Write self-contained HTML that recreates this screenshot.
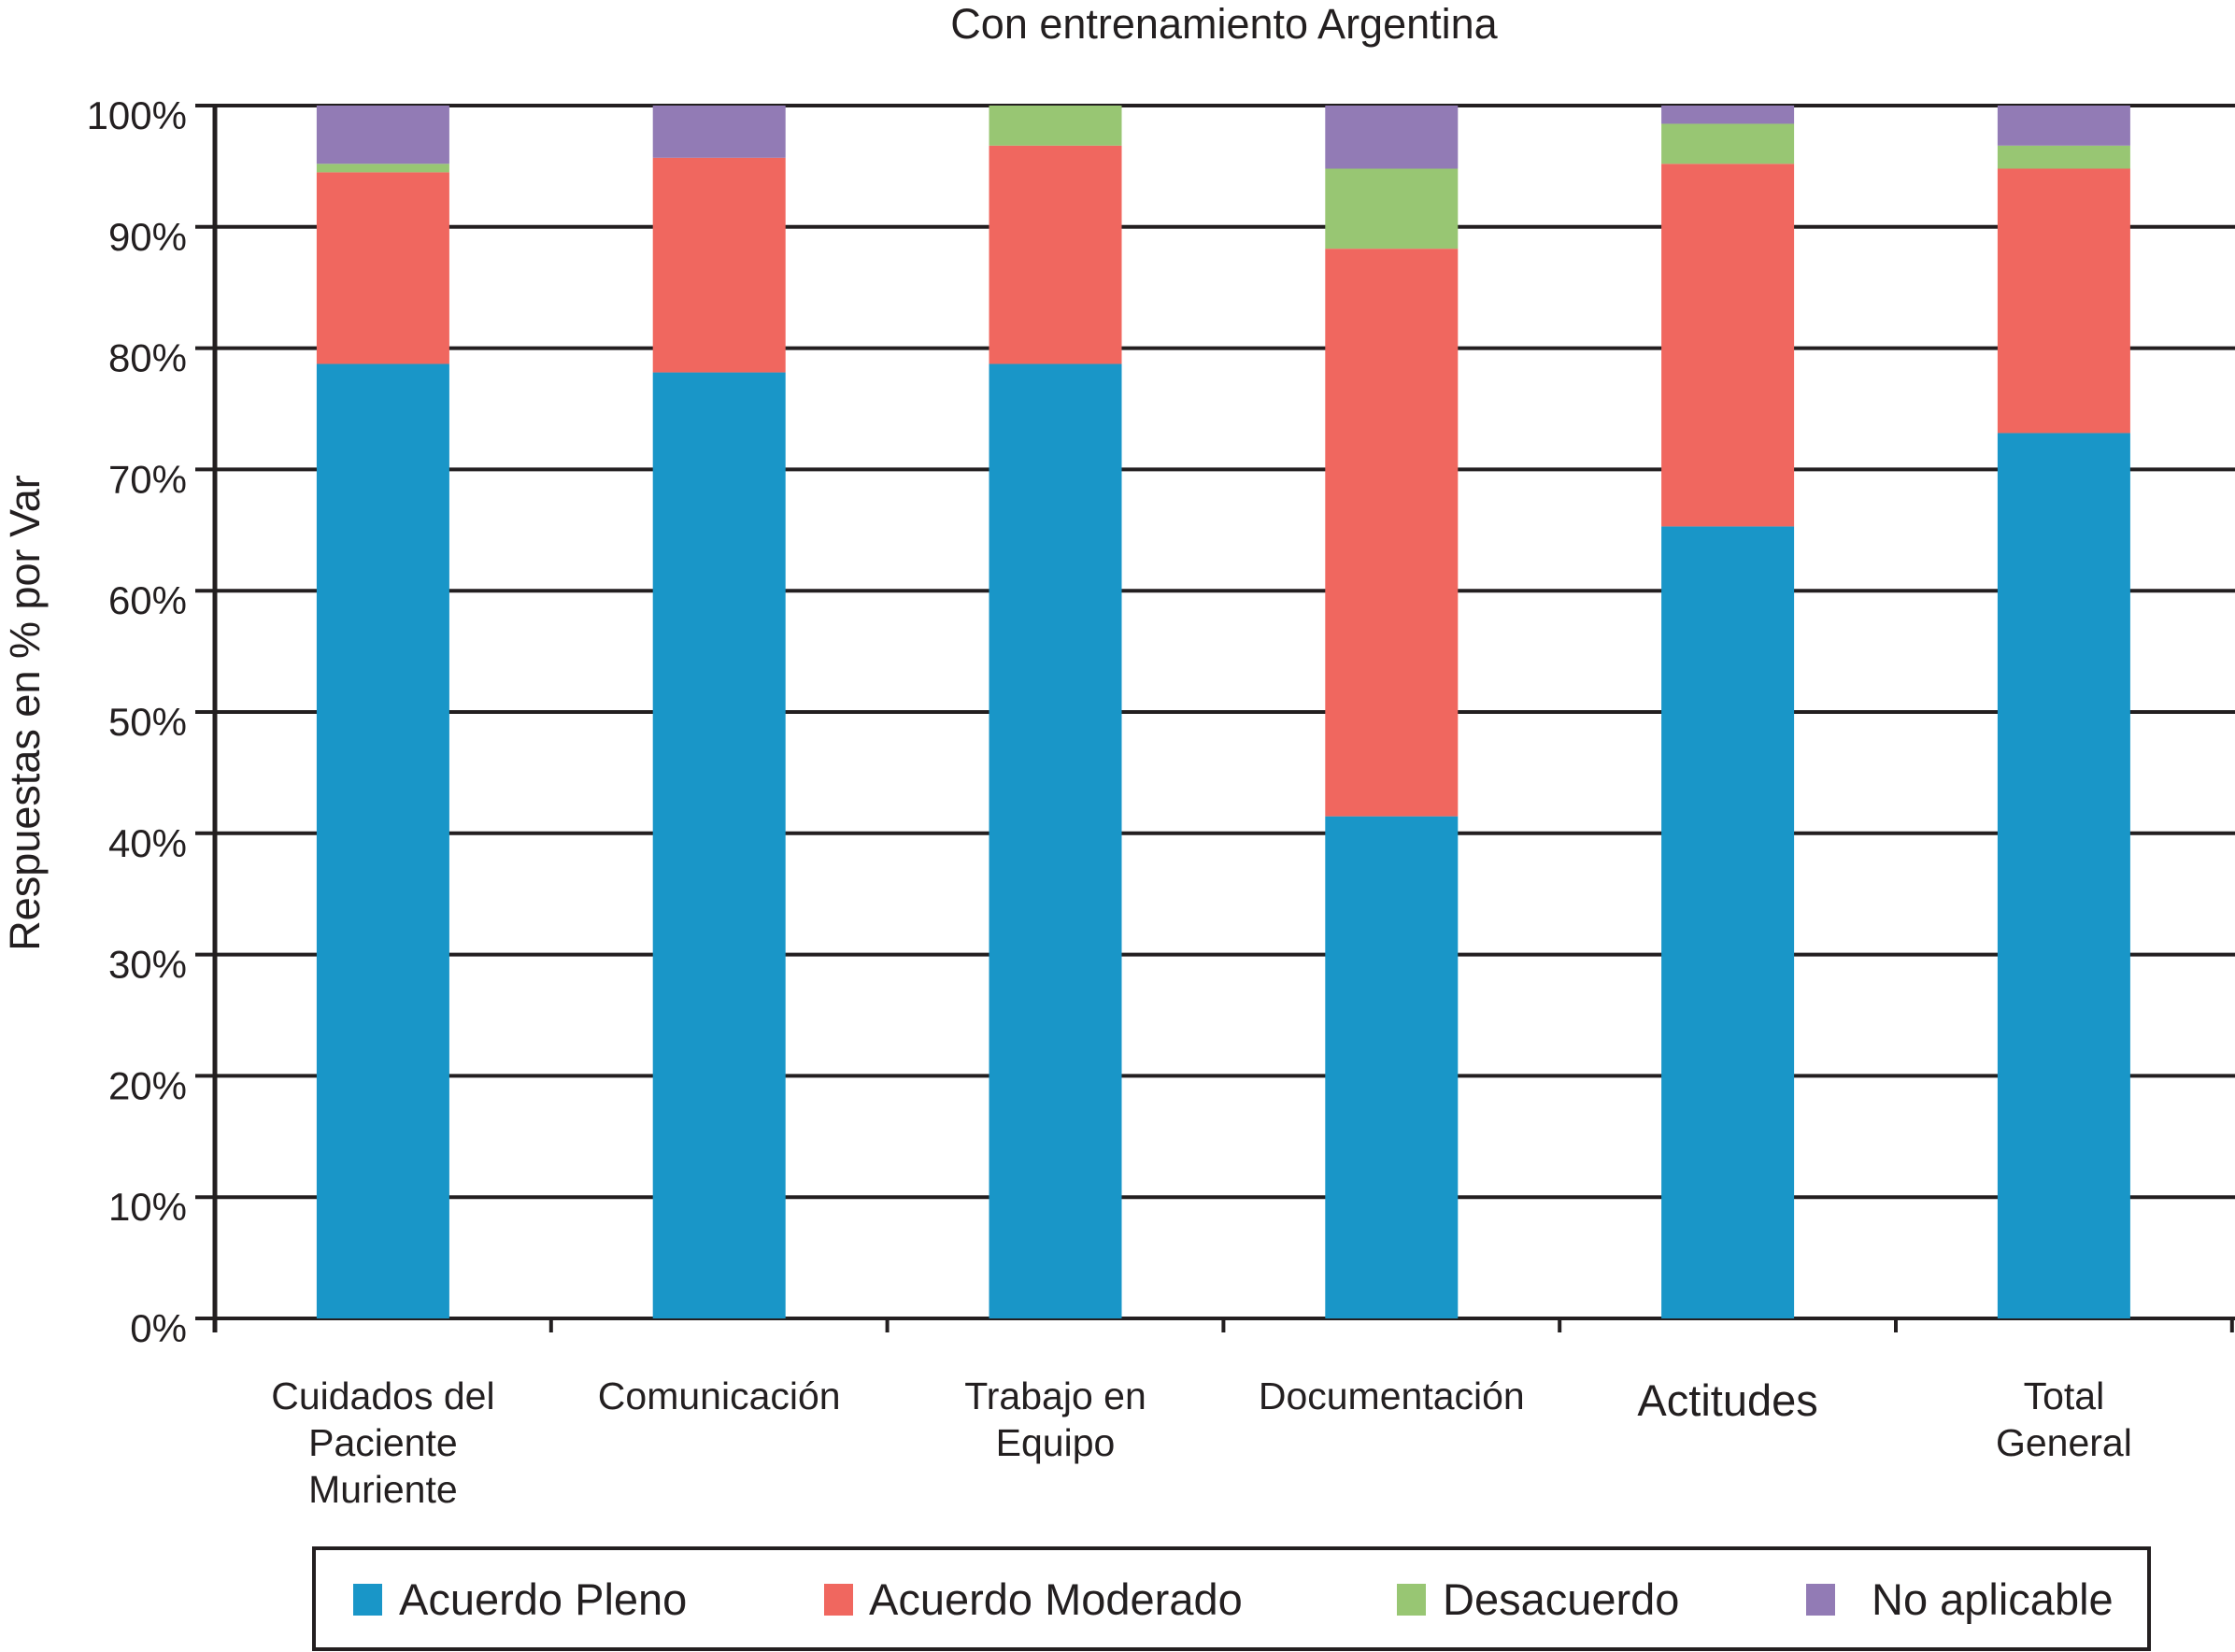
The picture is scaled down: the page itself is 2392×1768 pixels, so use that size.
<!DOCTYPE html>
<html><head><meta charset="utf-8"><style>
html,body{margin:0;padding:0;background:#fff;}
svg{display:block;font-family:"Liberation Sans",sans-serif;}
</style></head><body>
<svg id="chart" width="2392" height="1768" viewBox="0 0 2392 1768" xmlns="http://www.w3.org/2000/svg">
<text x="1310" y="41" font-size="45" text-anchor="middle" fill="#231f20">Con entrenamiento Argentina</text>
<text transform="translate(42,763) rotate(-90)" font-size="45" text-anchor="middle" fill="#231f20">Respuestas en % por Var</text>
<g id="grid"></g><g id="bars"></g><g id="axes"></g><g id="labels"></g>
<g>
<rect x="336" y="1657" width="1964" height="108" fill="none" stroke="#231f20" stroke-width="4"/>
<g id="legend"></g>
</g>
</svg>
<script>
const categories = [["Cuidados del","Paciente","Muriente"],["Comunicación"],["Trabajo en","Equipo"],["Documentación"],["Actitudes"],["Total","General"]];
const seriesNames = ["Acuerdo Pleno","Acuerdo Moderado","Desacuerdo","No aplicable"];
const acuerdoPleno = [78.7, 78.0, 78.7, 41.4, 65.3, 73.0];
const acuerdoModerado = [15.8, 17.7, 18.0, 46.8, 29.9, 21.8];
const desacuerdo = [0.7, 0, 3.3, 6.6, 3.3, 1.9];
const noAplicable = [4.8, 4.3, 0, 5.2, 1.5, 3.3];
const yTicks = ["0%","10%","20%","30%","40%","50%","60%","70%","80%","90%","100%"];
const colors = ["#1996c8","#f0675f","#98c673","#927bb5"];

const NS="http://www.w3.org/2000/svg";
const x0=230, x1=2392, y0=1411, yTop=113, catW=359.8, barW=142;
const yScale = v => y0 - (y0-yTop)*v/100;
const xCenter = i => x0 + catW*(i+0.5);
function mk(tag, attrs, parent){const e=document.createElementNS(NS,tag);for(const k in attrs)e.setAttribute(k,attrs[k]);parent.appendChild(e);return e;}
const grid=document.getElementById('grid'), bars=document.getElementById('bars'), axes=document.getElementById('axes'), labels=document.getElementById('labels'), legend=document.getElementById('legend');

yTicks.forEach((t,i)=>{
  const y=yScale(i*10);
  const l=mk('line',{x1:209,x2:x1,y1:y,y2:y,stroke:'#231f20','stroke-width':4},grid);
  
  
  const tx=mk('text',{x:200,y:y+25,'font-size':42,'text-anchor':'end',fill:'#231f20'},labels);
  tx.textContent=t;
  
  
});
const series=[acuerdoPleno,acuerdoModerado,desacuerdo,noAplicable];
categories.forEach((c,i)=>{
  let base=0;
  series.forEach((s,k)=>{
    const v=s[i]; if(v<=0){return;}
    const r=mk('rect',{x:xCenter(i)-barW/2,y:yScale(base+v),width:barW,height:yScale(base)-yScale(base+v),fill:colors[k]},bars);
    
    
    base+=v;
  });
  const big = c[0]==="Actitudes";
  c.forEach((line,j)=>{
    const tx=mk('text',{x:xCenter(i),y:(big?1515:1508)+j*50,'font-size':big?47:41,'text-anchor':'middle',fill:'#231f20'},labels);
    tx.textContent=line;
    
    
  });
});
const ya=mk('line',{x1:x0,x2:x0,y1:yTop-2,y2:1426,stroke:'#231f20','stroke-width':5},axes);


for(let i=1;i<=categories.length;i++){
  const t=mk('line',{x1:x0+catW*i,x2:x0+catW*i,y1:y0,y2:1426,stroke:'#231f20','stroke-width':4},axes);
  
  
}
const legX=[378,882,1495,1933], legT=[427,930,1544,2003];
seriesNames.forEach((n,k)=>{
  const r=mk('rect',{x:legX[k],y:1695,width:31,height:34,fill:colors[k]},legend);
  
  
  const tx=mk('text',{x:legT[k],y:1728,'font-size':47,fill:'#231f20'},legend);
  tx.textContent=n;
  
  
});
</script>
</body></html>
